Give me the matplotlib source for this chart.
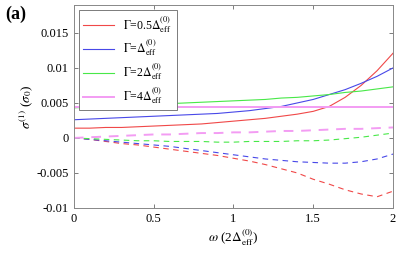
import numpy as np
import matplotlib
matplotlib.use('Agg')
import matplotlib.pyplot as plt
from matplotlib.font_manager import FontProperties

plt.rcParams['font.family'] = ['Liberation Serif', 'DejaVu Serif']
plt.rcParams['mathtext.fontset'] = 'stix'
SERIF = 'Liberation Serif'

# frequency axis (units of 2*Delta_eff^(0))
omega = np.arange(0, 2.01, 0.1)

# solid lines (one value per omega point)
red_solid = [0.0014, 0.0014, 0.0015, 0.0015, 0.0016, 0.0017, 0.0018, 0.0019, 0.0020, 0.0022, 0.0024,
             0.0026, 0.0028, 0.0031, 0.0034, 0.0038, 0.0045, 0.0058, 0.0075, 0.0096, 0.0121]
blue_solid = [0.0026, 0.0027, 0.0028, 0.0029, 0.0030, 0.0031, 0.0032, 0.0033, 0.0034, 0.0035, 0.0037,
              0.0039, 0.0042, 0.0045, 0.0050, 0.0055, 0.0062, 0.0069, 0.0078, 0.0088, 0.0100]
green_solid = [0.0043, 0.0044, 0.0045, 0.0046, 0.0047, 0.0048, 0.0049, 0.0050, 0.0051, 0.0052, 0.0053,
               0.0054, 0.0055, 0.0057, 0.0058, 0.0060, 0.0062, 0.0065, 0.0067, 0.0070, 0.0073]
magenta_solid = [0.0044] * 21

# dashed lines
red_dash = [0, -0.0002, -0.0005, -0.0008, -0.0010, -0.0013, -0.0016, -0.0019, -0.0022, -0.0025, -0.0029,
            -0.0033, -0.0038, -0.0044, -0.0050, -0.0059, -0.0066, -0.0074, -0.0080, -0.0084, -0.0076]
blue_dash = [0, -0.0002, -0.0004, -0.0006, -0.0008, -0.0010, -0.0012, -0.0015, -0.0018, -0.0021, -0.0024,
             -0.0027, -0.0030, -0.0032, -0.0034, -0.0035, -0.0036, -0.0036, -0.0034, -0.0030, -0.0023]
green_dash = [0, -0.0001, -0.0002, -0.0003, -0.0004, -0.0004, -0.0005, -0.0005, -0.0005, -0.0006, -0.0006,
              -0.0005, -0.0005, -0.0005, -0.0004, -0.0004, -0.0003, -0.0001, 0.0001, 0.0004, 0.0007]
magenta_dash = [0, 0.0001, 0.0002, 0.0003, 0.0004, 0.0005, 0.0005, 0.0006, 0.0007, 0.0007, 0.0008,
                0.0008, 0.0009, 0.0010, 0.0010, 0.0011, 0.0012, 0.0013, 0.0013, 0.0014, 0.0015]

labels = [r'$\Gamma$=0.5$\Delta_{\rm eff}^{(0)}$', r'$\Gamma$=$\Delta_{\rm eff}^{(0)}$',
          r'$\Gamma$=2$\Delta_{\rm eff}^{(0)}$', r'$\Gamma$=4$\Delta_{\rm eff}^{(0)}$']
colors = ['#f04848', '#4848e8', '#48e848', '#f39cf3']
widths = [0.8, 0.8, 0.8, 1.4]

fig = plt.figure(figsize=(3.99, 2.59), dpi=100)
ax = fig.add_axes([0.185, 0.197, 0.8, 0.784])

solids = [red_solid, blue_solid, green_solid, magenta_solid]
dashes = [red_dash, blue_dash, green_dash, magenta_dash]
for s, d, c, w, lab in zip(solids, dashes, colors, widths, labels):
    ax.plot(omega, s, color=c, lw=w, label=lab)
    ax.plot(omega, d, color=c, lw=w, ls=(0, (5, 4)))

ax.set_xlim(0, 2)
ax.set_ylim(-0.01, 0.019)
ax.set_xticks([0, 0.5, 1, 1.5, 2])
ax.set_xticklabels(['0', '0.5', '1', '1.5', '2'], family=SERIF, fontsize=9)
ax.set_yticks([-0.01, -0.005, 0, 0.005, 0.01, 0.015])
ax.set_yticklabels(['-0.01', '-0.005', '0', '0.005', '0.01', '0.015'], family=SERIF, fontsize=9)
ax.tick_params(direction='in', top=True, right=True, length=3, width=0.6, color='#666666')
for sp in ax.spines.values():
    sp.set_color('#888888')
    sp.set_linewidth(0.7)

ax.set_xlabel(r'$\omega$ (2$\Delta_{\rm eff}^{(0)}$)', family=SERIF, fontsize=9.5, labelpad=2)
ax.set_ylabel(r'$\sigma^{(1)}$ ($\sigma_0$)', family=SERIF, fontsize=9.5, labelpad=1)

leg = ax.legend(loc='upper left', prop=FontProperties(family=SERIF, size=8.5), handlelength=2.6,
                borderaxespad=0.4, labelspacing=0.3, fancybox=False, framealpha=1, edgecolor='#666666')
leg.get_frame().set_linewidth(0.6)

fig.text(0.012, 0.925, '(a)', family=SERIF, fontsize=13, fontweight='bold')

fig.savefig('out.png', dpi=100)
